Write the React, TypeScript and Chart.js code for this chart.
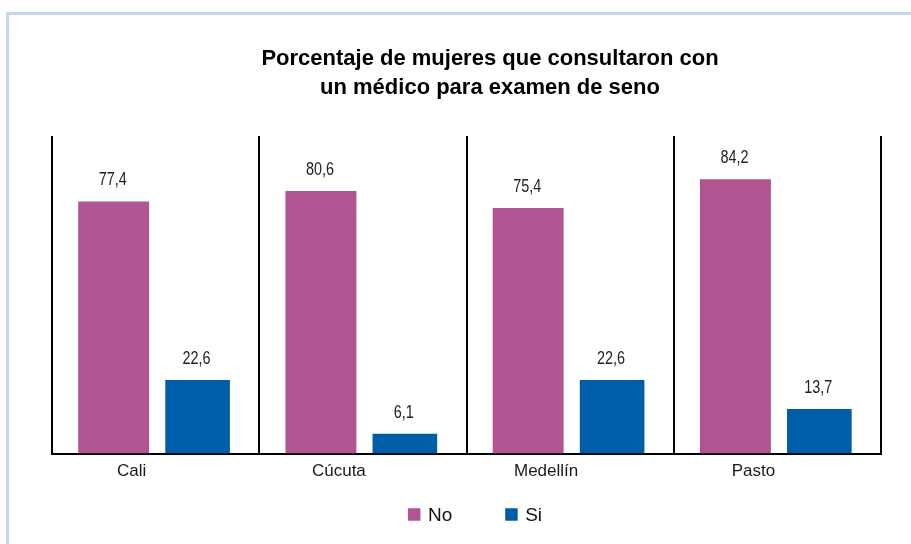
import React, { useEffect, useRef } from "react";
import { Chart, registerables } from "chart.js";

Chart.register(...registerables);

// ---- data ----
const categories = ["Cali", "Cúcuta", "Medellín", "Pasto"];
const seriesNames = ["No", "Si"];
const noValues = [77.4, 80.6, 75.4, 84.2];
const siValues = [22.6, 6.1, 22.6, 13.7];
const titleLines = ["Porcentaje de mujeres que consultaron con", "un médico para examen de seno"];

const seriesColors = ["#B15592", "#005DA8"];
const FONT = "'Liberation Sans', Arial, sans-serif";

const fmt = (v: number) => v.toFixed(1).replace(".", ",");

const valueLabels = {
  id: "valueLabels",
  afterDatasetsDraw(chart: any) {
    const ctx = chart.ctx;
    const squeeze = 0.8;
    ctx.save();
    ctx.font = `18px ${FONT}`;
    ctx.fillStyle = "#222";
    ctx.textAlign = "center";
    ctx.textBaseline = "alphabetic";
    chart.data.datasets.forEach((ds: any, i: number) => {
      const meta = chart.getDatasetMeta(i);
      meta.data.forEach((el: any, j: number) => {
        ctx.save();
        ctx.translate(el.x - 1, el.y - 16);
        ctx.scale(squeeze, 1);
        ctx.fillText(fmt(ds.data[j]), 0, 0);
        ctx.restore();
      });
    });
    ctx.restore();
  },
};

const titlePlugin = {
  id: "titleLines",
  afterDraw(chart: any) {
    const ctx = chart.ctx;
    ctx.save();
    ctx.font = `bold 22px ${FONT}`;
    ctx.fillStyle = "#000";
    ctx.textAlign = "center";
    ctx.textBaseline = "alphabetic";
    const cx = 490;
    ctx.fillText(titleLines[0], cx, 65);
    ctx.fillText(titleLines[1], cx, 94);
    ctx.restore();
  },
};

const legendPlugin = {
  id: "bottomLegend",
  afterDraw(chart: any) {
    const ctx = chart.ctx;
    ctx.save();
    ctx.font = `19px ${FONT}`;
    const box = 12.5;
    const gap = 7.5;
    const itemGap = 53;
    const items = chart.data.datasets.map((ds: any) => ({
      text: ds.label,
      color: ds.backgroundColor,
      w: ctx.measureText(ds.label).width,
    }));
    const total =
      items.reduce((s: number, it: any) => s + box + gap + it.w, 0) + itemGap * (items.length - 1);
    let x = 475 - total / 2;
    const cy = 514.5;
    ctx.textBaseline = "middle";
    ctx.textAlign = "left";
    items.forEach((it: any) => {
      ctx.fillStyle = it.color;
      ctx.fillRect(x, cy - box / 2, box, box);
      ctx.fillStyle = "#111";
      ctx.fillText(it.text, x + box + gap, cy + 1);
      x += box + gap + it.w + itemGap;
    });
    ctx.restore();
  },
};

export default function App() {
  const canvasRef = useRef<HTMLCanvasElement | null>(null);

  useEffect(() => {
    const canvas = canvasRef.current;
    if (!canvas) return;
    const chart = new Chart(canvas, {
      type: "bar",
      data: {
        labels: categories,
        datasets: [
          {
            label: seriesNames[0],
            data: noValues,
            backgroundColor: seriesColors[0],
            barPercentage: 0.845,
            categoryPercentage: 0.81,
          },
          {
            label: seriesNames[1],
            data: siValues,
            backgroundColor: seriesColors[1],
            barPercentage: 0.77,
            categoryPercentage: 0.81,
          },
        ],
      },
      options: {
        responsive: false,
        animation: false,
        devicePixelRatio: 1,
        layout: { padding: { top: 136, left: 52, right: 30, bottom: 54 } },
        plugins: {
          legend: { display: false },
          title: { display: false },
          tooltip: { enabled: false },
        },
        scales: {
          x: {
            offset: true,
            grid: {
              display: true,
              offset: true,
              color: "#000",
              lineWidth: 2,
              drawTicks: false,
            },
            border: { display: true, color: "#000", width: 2 },
            ticks: {
              color: "#1a1a1a",
              font: { family: FONT, size: 17 },
              padding: 8,
              labelOffset: -24,
            },
          },
          y: {
            display: false,
            min: 0,
            max: 97.5,
          },
        },
      },
      plugins: [valueLabels, titlePlugin, legendPlugin],
    });
    return () => chart.destroy();
  }, []);

  return (
    <div
      style={{
        position: "fixed",
        left: 0,
        top: 0,
        width: 911,
        height: 544,
        background: "#fff",
        overflow: "hidden",
      }}
    >
      <div
        style={{
          position: "absolute",
          left: 6,
          top: 12,
          width: 920,
          height: 560,
          borderTop: "3px solid #C8D5E7",
          borderLeft: "3px solid #C8D5E7",
          boxSizing: "border-box",
        }}
      />
      <canvas
        ref={canvasRef}
        width={911}
        height={544}
        style={{ position: "absolute", left: 0, top: 0, display: "block" }}
      />
    </div>
  );
}
